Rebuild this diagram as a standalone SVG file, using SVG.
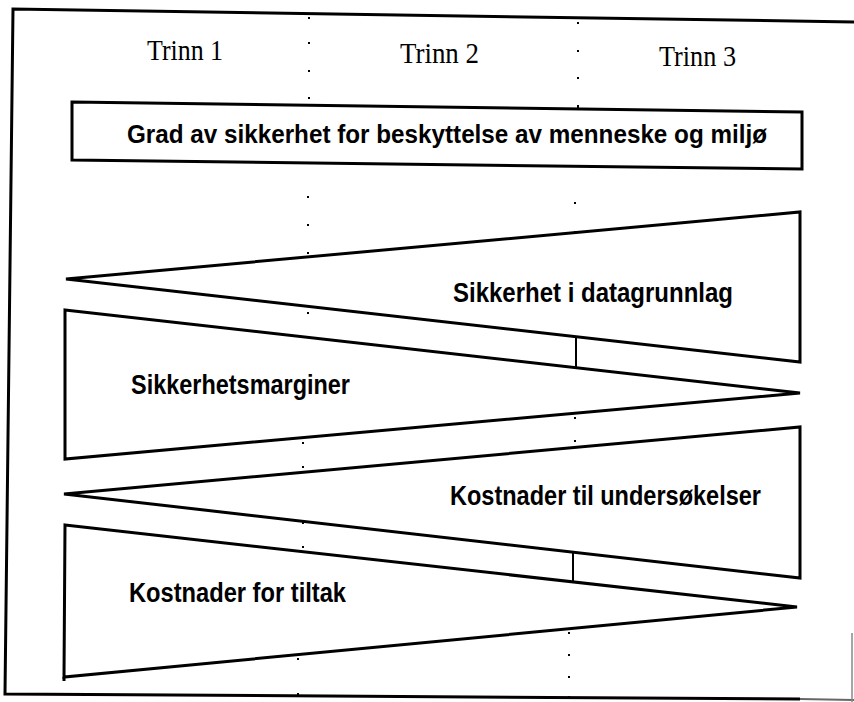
<svg xmlns="http://www.w3.org/2000/svg" width="854" height="702" viewBox="0 0 854 702">
<style>
.ln{fill:none;stroke:#000;stroke-width:3;stroke-linejoin:miter;stroke-linecap:butt}
.tk{fill:none;stroke:#000;stroke-width:2}
.hd{font-family:"Liberation Serif","Times New Roman",serif;font-size:29px;fill:#000}
.lb{font-family:"Liberation Sans",Arial,Helvetica,sans-serif;font-weight:bold;font-size:27px;fill:#000}
.gd{font-family:"Liberation Sans",Arial,Helvetica,sans-serif;font-weight:bold;font-size:25px;fill:#000}
.dt{fill:#000}
</style>
<rect width="854" height="702" fill="#fff"/>
<g id="frame">
<polyline class="ln" points="854,22 13,9 5,694 800,699"/>
<line x1="800" y1="699" x2="854" y2="700" stroke="#666" stroke-width="2"/>
<line x1="852" y1="633" x2="852" y2="702" stroke="#888" stroke-width="1.5"/>
</g>
<g id="dots">
<rect class="dt" x="308" y="17" width="2" height="2"/>
<rect class="dt" x="308" y="42" width="2" height="2"/>
<rect class="dt" x="308" y="70" width="2" height="2"/>
<rect class="dt" x="308" y="97" width="2" height="2"/>
<rect class="dt" x="307" y="196" width="2" height="2"/>
<rect class="dt" x="307" y="224" width="2" height="2"/>
<rect class="dt" x="307" y="252" width="2" height="2"/>
<rect class="dt" x="307" y="312" width="2" height="2"/>
<rect class="dt" x="302" y="442" width="2" height="2"/>
<rect class="dt" x="302" y="466" width="2" height="2"/>
<rect class="dt" x="302" y="522" width="2" height="2"/>
<rect class="dt" x="302" y="546" width="2" height="2"/>
<rect class="dt" x="297" y="658" width="2" height="2"/>
<rect class="dt" x="297" y="693" width="2" height="2"/>
<rect class="dt" x="577" y="22" width="2" height="2"/>
<rect class="dt" x="577" y="50" width="2" height="2"/>
<rect class="dt" x="577" y="77" width="2" height="2"/>
<rect class="dt" x="577" y="105" width="2" height="3"/>
<rect class="dt" x="574" y="202" width="2" height="2"/>
<rect class="dt" x="574" y="231" width="2" height="2"/>
<rect class="dt" x="574" y="417" width="2" height="2"/>
<rect class="dt" x="574" y="440" width="2" height="2"/>
<rect class="dt" x="568" y="632" width="2" height="2"/>
<rect class="dt" x="568" y="654" width="2" height="2"/>
<rect class="dt" x="568" y="676" width="2" height="2"/>
<rect class="dt" x="568" y="696" width="2" height="2"/>
</g>
<g id="trinn1"><text class="hd" x="147" y="60" textLength="76" lengthAdjust="spacingAndGlyphs">Trinn 1</text></g>
<g id="trinn2"><text class="hd" x="400" y="63" textLength="79" lengthAdjust="spacingAndGlyphs">Trinn 2</text></g>
<g id="trinn3"><text class="hd" x="659" y="66" textLength="77" lengthAdjust="spacingAndGlyphs">Trinn 3</text></g>
<g id="grad">
<polygon class="ln" points="72,102 802,112 802,169 72,160"/>
<text class="gd" x="127" y="143" textLength="640" lengthAdjust="spacingAndGlyphs">Grad av sikkerhet for beskyttelse av menneske og miljø</text>
</g>
<g id="datagrunnlag">
<polygon class="ln" points="66,279 800,212 800,362"/>
<text class="lb" x="453" y="302" textLength="280" lengthAdjust="spacingAndGlyphs">Sikkerhet i datagrunnlag</text>
</g>
<g id="marginer">
<polygon class="ln" points="65,310 800,393 65,459"/>
<text class="lb" x="131" y="394" textLength="219" lengthAdjust="spacingAndGlyphs">Sikkerhetsmarginer</text>
</g>
<g id="undersokelser">
<polygon class="ln" points="64,494 800,427 800,578"/>
<text class="lb" x="450" y="505" textLength="311" lengthAdjust="spacingAndGlyphs">Kostnader til undersøkelser</text>
</g>
<g id="tiltak">
<polygon class="ln" points="65,525 797,607 64,677"/>
<line class="ln" x1="64" y1="677" x2="64" y2="681"/>
<text class="lb" x="129" y="602" textLength="217" lengthAdjust="spacingAndGlyphs">Kostnader for tiltak</text>
</g>
<g id="connectors">
<line class="tk" x1="576" y1="338" x2="576" y2="367"/>
<line class="tk" x1="573" y1="553" x2="573" y2="582"/>
</g>
</svg>
